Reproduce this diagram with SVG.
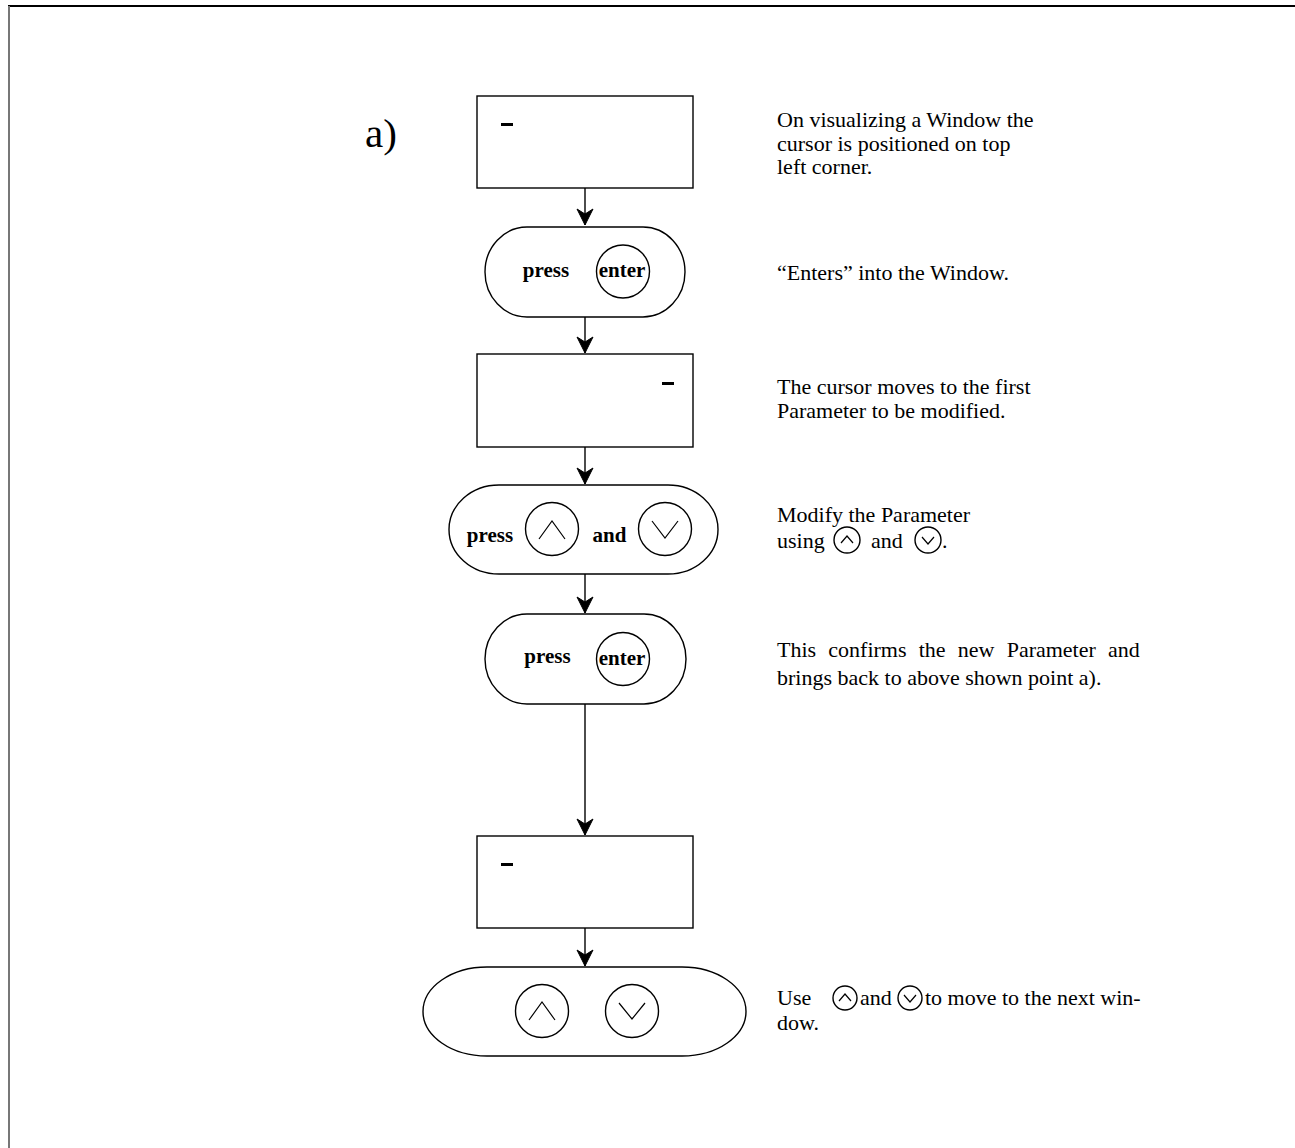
<svg xmlns="http://www.w3.org/2000/svg" width="1295" height="1148" viewBox="0 0 1295 1148">
<defs>
<style>
.bx{fill:#fff;stroke:#000;stroke-width:1.4}
.ln{fill:none;stroke:#000;stroke-width:1.4}
.cur{fill:#000}
.b{font-family:"Liberation Serif","Times New Roman",serif;font-weight:bold;font-size:21px;fill:#000}
.t{font-family:"Liberation Serif","Times New Roman",serif;font-size:22px;fill:#000}
.chev{fill:none;stroke:#000;stroke-width:1.2}
</style>
<marker id="ah" markerUnits="userSpaceOnUse" markerWidth="20" markerHeight="20" refX="0" refY="0" orient="auto" overflow="visible">
<path d="M0,0 L-16,-8 L-11,0 L-16,8 Z" fill="#000" stroke="#000" stroke-width="1"/>
</marker>
</defs>
<rect width="1295" height="1148" fill="#fff"/>
<line x1="8" y1="6" x2="1295" y2="6" stroke="#000" stroke-width="2"/>
<line x1="9" y1="6" x2="9" y2="1148" stroke="#777" stroke-width="2"/>

<text x="365" y="147" font-family="Liberation Serif, serif" font-size="41">a)</text>

<g id="connectors">
<line class="ln" x1="585" y1="188" x2="585" y2="225" marker-end="url(#ah)"/>
<line class="ln" x1="585" y1="317" x2="585" y2="353" marker-end="url(#ah)"/>
<line class="ln" x1="585" y1="447" x2="585" y2="484" marker-end="url(#ah)"/>
<line class="ln" x1="585" y1="574" x2="585" y2="613" marker-end="url(#ah)"/>
<line class="ln" x1="585" y1="704" x2="585" y2="835" marker-end="url(#ah)"/>
<line class="ln" x1="585" y1="928" x2="585" y2="966" marker-end="url(#ah)"/>
</g>

<g id="window1">
<rect class="bx" x="477" y="96" width="216" height="92"/>
<rect class="cur" x="501" y="123" width="12" height="3"/>
</g>

<g id="press-enter-1">
<rect class="bx" x="485" y="227" width="200" height="90" rx="42" ry="45"/>
<text class="b" x="546" y="277" text-anchor="middle">press</text>
<circle class="bx" cx="623" cy="271.5" r="26.5"/>
<text class="b" x="622" y="277" text-anchor="middle">enter</text>
</g>

<g id="window2">
<rect class="bx" x="477" y="354" width="216" height="93"/>
<rect class="cur" x="662" y="382" width="12" height="3"/>
</g>

<g id="press-up-down">
<rect class="bx" x="449" y="485" width="269" height="89" rx="50" ry="44.5"/>
<text class="b" x="490" y="542" text-anchor="middle">press</text>
<circle class="bx" cx="552" cy="529" r="26.5"/>
<polyline class="chev" points="539,539 552,521 565,539"/>
<text class="b" x="609.5" y="542" text-anchor="middle">and</text>
<circle class="bx" cx="665" cy="529" r="26.5"/>
<polyline class="chev" points="652,521 665,538 678,521"/>
</g>

<g id="press-enter-2">
<rect class="bx" x="485" y="614" width="201" height="90" rx="42" ry="45"/>
<text class="b" x="547.5" y="663" text-anchor="middle">press</text>
<circle class="bx" cx="623" cy="659" r="26.5"/>
<text class="b" x="622" y="665" text-anchor="middle">enter</text>
</g>

<g id="window3">
<rect class="bx" x="477" y="836" width="216" height="92"/>
<rect class="cur" x="501" y="863" width="12" height="3"/>
</g>

<g id="up-down">
<rect class="bx" x="423" y="967" width="323" height="89" rx="64" ry="44.5"/>
<circle class="bx" cx="542" cy="1011" r="26.5"/>
<polyline class="chev" points="529,1020 542,1002 555,1020"/>
<circle class="bx" cx="632" cy="1011" r="26.5"/>
<polyline class="chev" points="619,1003 632,1019 645,1003"/>
</g>

<g id="desc1">
<text class="t" x="777" y="127">On visualizing a Window the</text>
<text class="t" x="777" y="151">cursor is positioned on top</text>
<text class="t" x="777" y="174">left corner.</text>
</g>
<g id="desc2">
<text class="t" x="777" y="280">“Enters” into the Window.</text>
</g>
<g id="desc3">
<text class="t" x="777" y="394">The cursor moves to the first</text>
<text class="t" x="777" y="418">Parameter to be modified.</text>
</g>
<g id="desc4">
<text class="t" x="777" y="522">Modify the Parameter</text>
<text class="t" x="777" y="548">using</text>
<circle class="bx" cx="847" cy="540" r="13"/>
<polyline class="chev" points="841,543 847,536 853,543"/>
<text class="t" x="871" y="548">and</text>
<circle class="bx" cx="928" cy="540" r="13"/>
<polyline class="chev" points="922,537 928,544 934,537"/>
<text class="t" x="942" y="548">.</text>
</g>
<g id="desc5">
<text class="t" x="777" y="657" word-spacing="6.7">This confirms the new Parameter and</text>
<text class="t" x="777" y="685">brings back to above shown point a).</text>
</g>
<g id="desc6">
<text class="t" x="777" y="1005">Use</text>
<circle class="bx" cx="845" cy="998" r="12"/>
<polyline class="chev" points="839,1001 845,994 851,1001"/>
<text class="t" x="860" y="1005">and</text>
<circle class="bx" cx="910" cy="998" r="12"/>
<polyline class="chev" points="904,995 910,1002 916,995"/>
<text class="t" x="925" y="1005">to move to the next win-</text>
<text class="t" x="777" y="1030">dow.</text>
</g>
</svg>
